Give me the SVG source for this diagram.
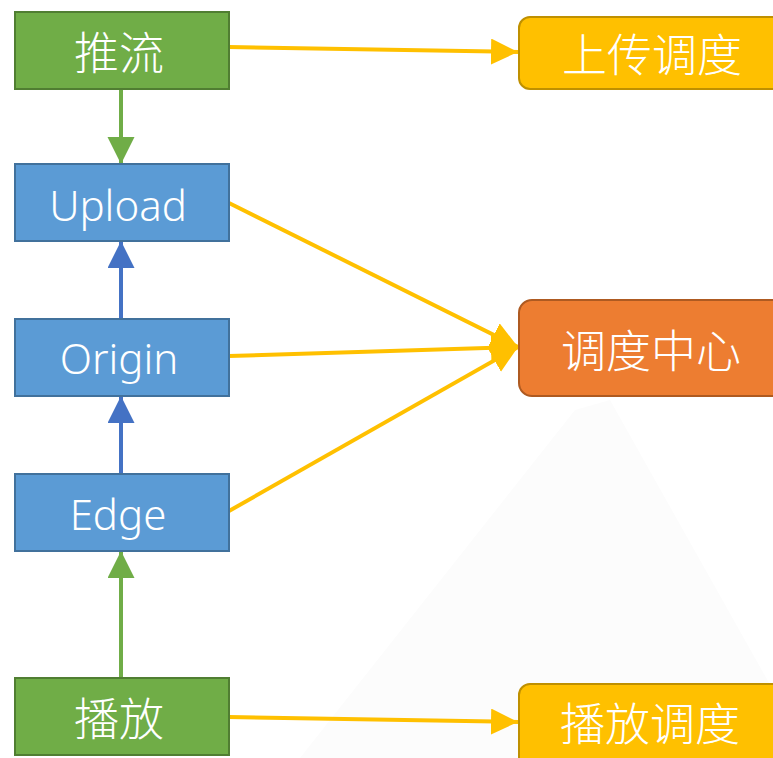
<svg xmlns="http://www.w3.org/2000/svg" width="773" height="758" viewBox="0 0 773 758">
  <style>
    .lbl { font-family: "Noto Sans CJK SC", "Noto Sans", sans-serif; font-size: 45px; font-weight: 300; fill: #ffffff; text-anchor: middle; dominant-baseline: central; }
    .lat { font-family: "Noto Sans", "Noto Sans CJK SC", sans-serif; font-size: 42px; font-weight: 300; fill: #ffffff; text-anchor: middle; dominant-baseline: central; }
    .green { fill: #70AD47; stroke: #507E32; stroke-width: 2; }
    .blue { fill: #5B9BD5; stroke: #41719C; stroke-width: 2; }
    .yellow { fill: #FFC000; stroke: #BF9000; stroke-width: 2; }
    .orange { fill: #ED7D31; stroke: #AE5A21; stroke-width: 2; }
    .cy { stroke: #FFC000; stroke-width: 4; fill: none; }
    .cg { stroke: #70AD47; stroke-width: 4; fill: none; }
    .cb { stroke: #4472C4; stroke-width: 4; fill: none; }
  </style>
  <defs>
    <marker id="ay" markerUnits="userSpaceOnUse" markerWidth="28" markerHeight="28" refX="27" refY="13" orient="auto">
      <path d="M0,0 L27,13 L0,26 Z" fill="#FFC000"/>
    </marker>
    <marker id="ag" markerUnits="userSpaceOnUse" markerWidth="28" markerHeight="28" refX="27" refY="13.5" orient="auto">
      <path d="M0,0 L27,13.5 L0,27 Z" fill="#70AD47"/>
    </marker>
    <marker id="ab" markerUnits="userSpaceOnUse" markerWidth="28" markerHeight="28" refX="27" refY="13.5" orient="auto">
      <path d="M0,0 L27,13.5 L0,27 Z" fill="#4472C4"/>
    </marker>
  </defs>
  <rect width="773" height="758" fill="#ffffff"/>
  <polygon points="300,758 575,410 610,400 773,690 773,758" fill="#fcfcfc"/>

  <g id="connectors">
    <line class="cy" x1="229" y1="47" x2="518" y2="52" marker-end="url(#ay)"/>
    <line class="cg" x1="121" y1="89" x2="121" y2="164" marker-end="url(#ag)"/>
    <line class="cb" x1="121" y1="319" x2="121" y2="241" marker-end="url(#ab)"/>
    <line class="cb" x1="121" y1="474" x2="121" y2="396" marker-end="url(#ab)"/>
    <line class="cg" x1="121" y1="678" x2="121" y2="551" marker-end="url(#ag)"/>
    <line class="cy" x1="229" y1="203" x2="518" y2="347" marker-end="url(#ay)"/>
    <line class="cy" x1="229" y1="356" x2="518" y2="347" marker-end="url(#ay)"/>
    <line class="cy" x1="229" y1="511" x2="518" y2="347" marker-end="url(#ay)"/>
    <line class="cy" x1="229" y1="717" x2="518" y2="722" marker-end="url(#ay)"/>
  </g>

  <g id="node-tuiliu">
    <rect class="green" x="15" y="12" width="214" height="77"/>
    <text class="lbl" x="119" y="50">推流</text>
  </g>
  <g id="node-upload">
    <rect class="blue" x="15" y="164" width="214" height="77"/>
    <text class="lat" x="118" y="204">Upload</text>
  </g>
  <g id="node-origin">
    <rect class="blue" x="15" y="319" width="214" height="77"/>
    <text class="lat" x="119" y="357">Origin</text>
  </g>
  <g id="node-edge">
    <rect class="blue" x="15" y="474" width="214" height="77"/>
    <text class="lat" x="118" y="513">Edge</text>
  </g>
  <g id="node-bofang">
    <rect class="green" x="15" y="678" width="214" height="77"/>
    <text class="lbl" x="119" y="716">播放</text>
  </g>
  <g id="node-shangchuan">
    <rect class="yellow" x="519" y="17" width="280" height="72" rx="11"/>
    <text class="lbl" x="652" y="52">上传调度</text>
  </g>
  <g id="node-center">
    <rect class="orange" x="519" y="300" width="280" height="96" rx="13"/>
    <text class="lbl" x="651" y="348">调度中心</text>
  </g>
  <g id="node-bofangdiaodu">
    <rect class="yellow" x="519" y="684" width="280" height="100" rx="11"/>
    <text class="lbl" x="650" y="721">播放调度</text>
  </g>
</svg>
